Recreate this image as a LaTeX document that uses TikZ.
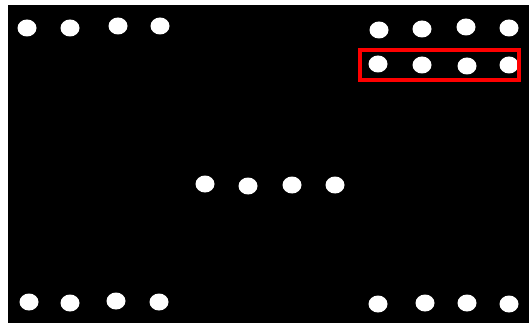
\documentclass[tikz,border=0pt]{standalone}
\usepackage{tikz}

\begin{document}
\begin{tikzpicture}[x=1pt,y=-1pt,
  spot/.style={fill=white},
  pick/.style={draw=red,line width=3.5pt}]
\useasboundingbox (0,0) rectangle (529,323);
\fill[white] (0,0) rectangle (529,323);
\fill[black] (8,5) rectangle (529,323);
% rows of dots
\foreach \x/\y in {27/28,70/28,118/26,160/26}
  \fill[spot] (\x,\y) ellipse [x radius=9.5,y radius=8.5];
\foreach \x/\y in {379/30,422/29,466/27,509/28}
  \fill[spot] (\x,\y) ellipse [x radius=9.5,y radius=8.5];
\foreach \x/\y in {378/64,422/65,467/66,509/65}
  \fill[spot] (\x,\y) ellipse [x radius=9.5,y radius=8.5];
\foreach \x/\y in {205/184,248/186,292/185,335/185}
  \fill[spot] (\x,\y) ellipse [x radius=9.5,y radius=8.5];
\foreach \x/\y in {29/302,70/303,116/301,159/302}
  \fill[spot] (\x,\y) ellipse [x radius=9.5,y radius=8.5];
\foreach \x/\y in {378/304,425/303,467/303,509/304}
  \fill[spot] (\x,\y) ellipse [x radius=9.5,y radius=8.5];
% selected row
\draw[pick] (360,50) rectangle (519,80);
\end{tikzpicture}
\end{document}
